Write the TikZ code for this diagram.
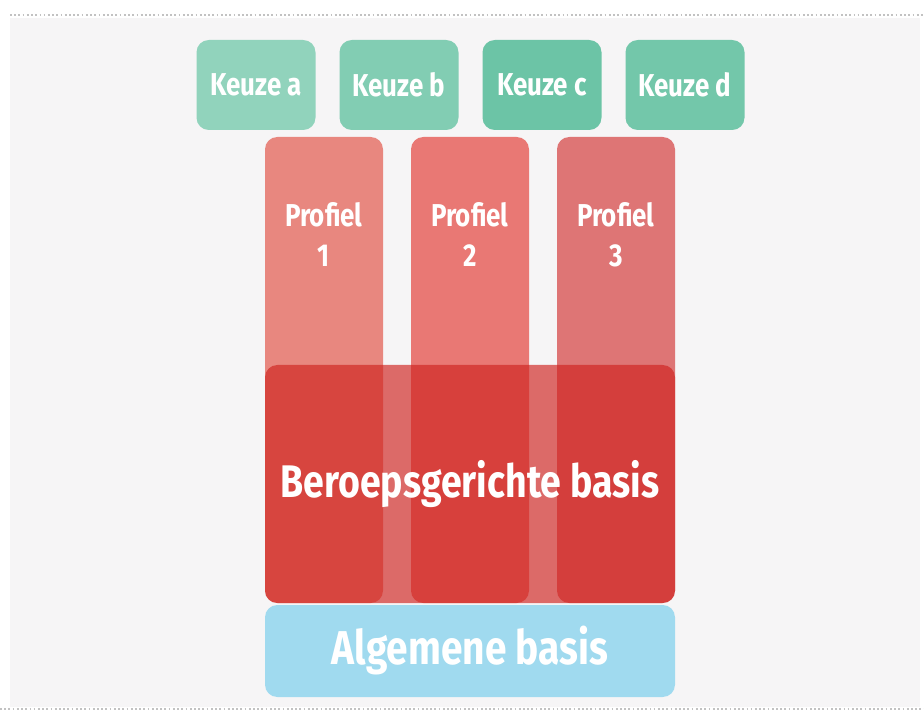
\documentclass[tikz,border=0pt]{standalone}
\usepackage{xcolor}
\usepackage{tikz}
\usepackage{fontspec}
\newfontfamily\narrowfont{Fira Sans}[FakeStretch=0.82]
\usetikzlibrary{positioning}
\definecolor{panelgray}{HTML}{F6F5F6}
\definecolor{dotgray}{HTML}{C2C2C2}
\definecolor{keuzegreen}{HTML}{6CC4A6}
\definecolor{profielA}{HTML}{E8877F}
\definecolor{profielB}{HTML}{E97874}
\definecolor{profielC}{HTML}{DE7575}
\definecolor{basisred}{HTML}{CF231F}
\definecolor{algblue}{HTML}{A0DAEF}

\begin{document}
\begin{tikzpicture}[
    keuzebox/.style={fill=#1, text=white, rounded corners=7pt, minimum width=2.38cm, minimum height=1.8cm, inner sep=0pt, font=\narrowfont\bfseries\fontsize{18}{20}\selectfont},
    profielbox/.style={fill=#1, rounded corners=7pt, minimum width=2.36cm, minimum height=9.32cm, inner sep=0pt},
    profieltext/.style={text=white, align=center, inner sep=0pt, font=\narrowfont\bfseries\fontsize{18}{23}\selectfont},
    basisbox/.style={fill=#1, text=white, rounded corners=7pt, minimum width=8.2cm, inner sep=0pt}
  ]
  \useasboundingbox (0,0) rectangle (18.48,14.4);
  \fill[white] (0,0) rectangle (18.48,14.4);
  \fill[panelgray] (0.2,0.26) rectangle (18.4,14.04);
  \draw[dotgray, line width=0.8pt, dash pattern=on 1pt off 1.4pt] (0.2,14.1) -- (18.48,14.1);
  \draw[dotgray, line width=0.8pt, dash pattern=on 1pt off 1.4pt] (0,0.22) -- (18.48,0.22);

  % keuzedelen
  \foreach \i/\ltr/\amt in {1/a/75, 2/b/85, 3/c/100, 4/d/95} {
    \node[keuzebox=keuzegreen!\amt] (k\ltr) at ({5.12+(\i-1)*2.86},12.7) {Keuze \ltr};
  }

  % profielen
  \foreach \i/\col in {1/profielA, 2/profielB, 3/profielC} {
    \node[profielbox=\col] (p\i) at ({6.48+(\i-1)*2.92},7.0) {};
    \node[profieltext, below=1.3cm of p\i.north] (pt\i) {Profiel\\\i};
  }

  % basis
  \node[basisbox=basisred, fill opacity=0.66, text opacity=1, minimum height=4.76cm, font=\narrowfont\bfseries\fontsize{26}{28}\selectfont] (beroeps) at (9.4,4.72) {Beroepsgerichte basis};
  \node[basisbox=algblue, minimum height=1.84cm, font=\narrowfont\bfseries\fontsize{27}{28}\selectfont] (algemeen) at (9.4,1.38) {Algemene basis};
\end{tikzpicture}
\end{document}
